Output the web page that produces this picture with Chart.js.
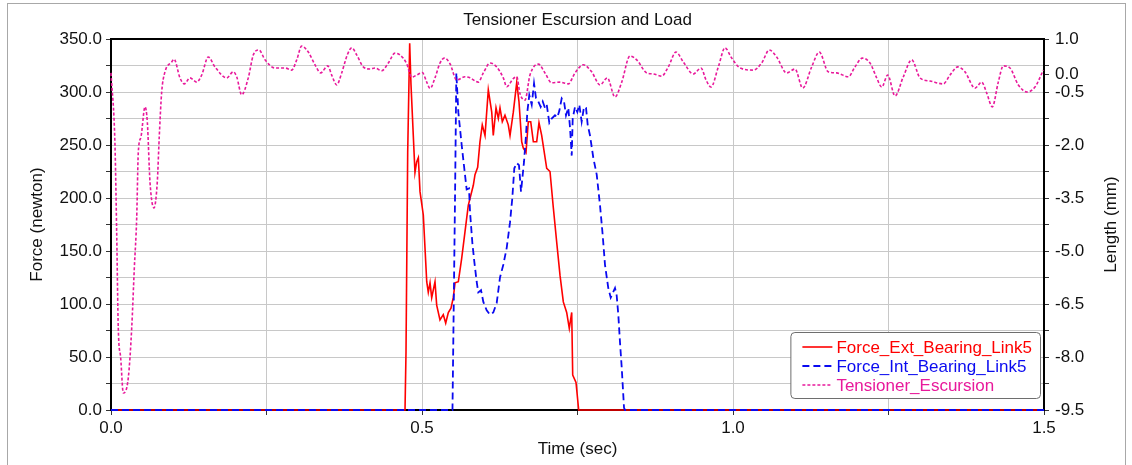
<!DOCTYPE html>
<html>
<head>
<meta charset="utf-8">
<title>Tensioner Escursion and Load</title>
<script src="https://cdn.jsdelivr.net/npm/chart.js@4/dist/chart.umd.min.js"></script>
<style>
  html, body { margin: 0; padding: 0; background: #fff; }
  #chart { display: block; }
</style>
</head>
<body>
<canvas id="chart" width="1132" height="465"></canvas>
<script>
/* global Chart */

// ---------- Data ----------

const chartTitle = 'Tensioner Escursion and Load';

// Force_Ext_Bearing_Link5 (newton, left axis)
const extTime = [0, 0.4727, 0.4743, 0.4770, 0.4802, 0.4823, 0.4860, 0.4887, 0.4914, 0.4941,
  0.4968, 0.5021, 0.5076, 0.5101, 0.5129, 0.5156, 0.5209, 0.5236, 0.5289, 0.5342,
  0.5381, 0.5423, 0.5466, 0.5503, 0.5531, 0.5584, 0.5638, 0.5691, 0.5744, 0.5825,
  0.5852, 0.5895, 0.5932, 0.5969, 0.6013, 0.6066, 0.6121, 0.6146, 0.6190, 0.6227,
  0.6254, 0.6291, 0.6334, 0.6387, 0.6415, 0.6468, 0.6523, 0.6559, 0.6603, 0.6629,
  0.6672, 0.6709, 0.6748, 0.6790, 0.6844, 0.6881, 0.6924, 0.7005, 0.7058, 0.7111,
  0.7166, 0.7219, 0.7272, 0.7326, 0.7368, 0.7407, 0.7423, 0.7476, 0.7519, 1.5];
const extForce = [0, 0, 55, 243, 346, 307, 259, 224, 234, 238,
  206, 184, 121, 111, 120, 106, 121, 99, 85, 90,
  82, 92, 96, 106, 120, 121, 143, 168, 193, 212,
  222, 229, 253, 269, 259, 302, 281, 259, 285, 275,
  285, 272, 278, 269, 259, 281, 309, 291, 253, 247,
  243, 272, 272, 253, 253, 271, 259, 228, 225, 191,
  158, 127, 102, 92, 77, 92, 33, 26, 0, 0];

// Force_Int_Bearing_Link5 (newton, left axis)
const intTime = [0, 0.5490, 0.5531, 0.5552, 0.5584, 0.5638, 0.5691, 0.5718, 0.5756, 0.5772,
  0.5809, 0.5841, 0.5879, 0.5905, 0.5949, 0.5986, 0.6040, 0.6093, 0.6146, 0.6201,
  0.6254, 0.6307, 0.6362, 0.6415, 0.6452, 0.6484, 0.6523, 0.6559, 0.6592, 0.6640,
  0.6672, 0.6693, 0.6725, 0.6764, 0.6801, 0.6833, 0.6870, 0.6908, 0.6941, 0.6977,
  0.7005, 0.7047, 0.7085, 0.7138, 0.7175, 0.7207, 0.7246, 0.7283, 0.7315, 0.7352,
  0.7379, 0.7407, 0.7423, 0.7460, 0.7497, 0.7529, 0.7567, 0.7605, 0.7637, 0.7664,
  0.7701, 0.7754, 0.7809, 0.7862, 0.7905, 0.7942, 0.7995, 0.8034, 0.8103, 0.8130,
  0.8156, 0.8183, 0.8211, 0.8248, 0.8264, 1.5];
const intForce = [0, 0, 200, 318, 281, 250, 222, 208, 209, 187,
  158, 140, 121, 111, 113, 102, 94, 90, 92, 101,
  125, 137, 153, 177, 200, 228, 233, 231, 206, 234,
  259, 281, 297, 288, 308, 294, 291, 286, 291, 285,
  288, 271, 275, 278, 276, 282, 294, 291, 278, 285,
  267, 240, 275, 286, 281, 288, 272, 286, 285, 269,
  259, 238, 222, 193, 165, 137, 115, 106, 115, 108,
  90, 64, 40, 2, 0, 0];

// Tensioner_Escursion (mm, right axis)
const tensTime = [0.0000, 0.0064, 0.0092, 0.0117, 0.0156, 0.0198, 0.0278, 0.0333, 0.0375, 0.0413,
  0.0439, 0.0482, 0.0547, 0.0584, 0.0627, 0.0691, 0.0744, 0.0777, 0.0815, 0.0868,
  0.0976, 0.1013, 0.1109, 0.1178, 0.1270, 0.1378, 0.1458, 0.1564, 0.1672, 0.1860,
  0.1966, 0.2021, 0.2101, 0.2207, 0.2288, 0.2379, 0.2476, 0.2637, 0.2797, 0.2905,
  0.2986, 0.3066, 0.3172, 0.3280, 0.3371, 0.3484, 0.3548, 0.3629, 0.3709, 0.3799,
  0.3870, 0.3950, 0.4056, 0.4164, 0.4244, 0.4352, 0.4458, 0.4566, 0.4646, 0.4754,
  0.4834, 0.4915, 0.5005, 0.5076, 0.5129, 0.5209, 0.5289, 0.5359, 0.5450, 0.5558,
  0.5691, 0.5772, 0.5905, 0.5986, 0.6093, 0.6201, 0.6307, 0.6362, 0.6468, 0.6523,
  0.6576, 0.6656, 0.6736, 0.6870, 0.6977, 0.7085, 0.7219, 0.7352, 0.7460, 0.7593,
  0.7728, 0.7862, 0.7979, 0.8103, 0.8211, 0.8344, 0.8452, 0.8613, 0.8719, 0.8854,
  0.8960, 0.9084, 0.9201, 0.9362, 0.9486, 0.9566, 0.9646, 0.9764, 0.9871, 0.9979,
  1.0113, 1.0326, 1.0461, 1.0584, 1.0702, 1.0863, 1.0997, 1.1121, 1.1265, 1.1387,
  1.1532, 1.1667, 1.1854, 1.1961, 1.2079, 1.2203, 1.2310, 1.2391, 1.2487, 1.2605,
  1.2738, 1.2873, 1.3006, 1.3167, 1.3381, 1.3489, 1.3613, 1.3730, 1.3891, 1.3998,
  1.4079, 1.4169, 1.4265, 1.4346, 1.4453, 1.4587, 1.4727, 1.4855, 1.4989];
const tensLength = [0.04, -2.00, -4.55, -7.18, -8.03, -9.02, -8.59, -7.18, -5.48, -4.07,
  -2.20, -1.77, -0.92, -1.35, -3.05, -3.78, -3.05, -1.72, -0.50, 0.07,
  0.35, 0.43, -0.10, -0.27, -0.10, -0.22, -0.02, 0.49, 0.21, -0.10,
  0.07, -0.07, -0.58, -0.10, 0.55, 0.69, 0.41, 0.18, 0.18, 0.12,
  0.41, 0.80, 0.63, 0.27, 0.04, 0.24, -0.02, -0.30, 0.04, 0.55,
  0.75, 0.55, 0.21, 0.15, 0.18, 0.10, 0.32, 0.60, 0.55, 0.30,
  -0.08, -0.02, 0.05, -0.22, -0.40, -0.10, 0.32, 0.46, 0.30, -0.16,
  -0.07, -0.10, -0.22, 0.04, 0.32, 0.21, -0.10, -0.35, -0.12, -0.07,
  -0.55, -0.73, -0.02, 0.29, 0.04, -0.24, -0.22, -0.27, 0.04, 0.27,
  0.07, -0.30, -0.10, -0.64, -0.22, 0.52, 0.41, 0.04, 0.01, -0.05,
  0.21, 0.63, 0.35, 0.01, 0.18, -0.16, -0.36, 0.21, 0.75, 0.46,
  0.18, 0.12, 0.32, 0.69, 0.49, 0.04, 0.15, -0.39, 0.21, 0.63,
  0.07, 0.04, -0.07, 0.21, 0.46, 0.32, -0.10, -0.36, -0.02, -0.61,
  -0.07, 0.41, -0.10, -0.19, -0.27, -0.02, 0.21, 0.07, -0.39, -0.22,
  -0.53, -0.92, -0.22, 0.24, 0.18, -0.30, -0.50, -0.36, 0.12];

// Tick values / labels
const timeTickStep = 0.25;
const timeLabelled = [0, 0.5, 1.0, 1.5];
const forceTickStep = 25;
const forceLabelled = [0, 50, 100, 150, 200, 250, 300, 350];
const lengthTicks = [-9.5, -8.75, -8.0, -7.25, -6.5, -5.75, -5.0, -4.25, -3.5, -2.75,
  -2.0, -1.25, -0.5, 0.0, 0.25, 1.0];
const lengthLabelled = [-9.5, -8.0, -6.5, -5.0, -3.5, -2.0, -0.5, 0.0, 1.0];

// ---------- Styling ----------

const FONT_FAMILY = "'Liberation Sans', Arial, sans-serif";
const FONT_SIZE = 17;
const TEXT_COLOR = '#111';
const GRID_COLOR = '#c8c8c8';
const RED = '#ff0000';
const BLUE = '#0a0af0';
const PINK = '#e8199b';

Chart.defaults.font.family = FONT_FAMILY;
Chart.defaults.font.size = FONT_SIZE;
Chart.defaults.color = TEXT_COLOR;

const toPoints = (xs, ys) => xs.map((x, i) => ({ x, y: ys[i] }));

// ---------- Decorations: frame, title, right-axis title, legend ----------

const decorations = {
  id: 'decorations',
  beforeDraw(chart) {
    const { ctx, width, height } = chart;
    ctx.save();
    ctx.fillStyle = '#fff';
    ctx.fillRect(0, 0, width, height);
    ctx.strokeStyle = '#a8a8a8';
    ctx.lineWidth = 1;
    ctx.strokeRect(7.5, 3.5, width - 14, height + 10);
    ctx.restore();
  },
  afterDraw(chart) {
    const { ctx, chartArea: area } = chart;
    const font = `${FONT_SIZE}px ${FONT_FAMILY}`;
    ctx.save();

    // top edge of the plot frame
    ctx.strokeStyle = '#000';
    ctx.lineWidth = 2;
    ctx.beginPath();
    ctx.moveTo(area.left - 1, area.top);
    ctx.lineTo(area.right + 1, area.top);
    ctx.stroke();

    // chart title
    ctx.fillStyle = TEXT_COLOR;
    ctx.font = font;
    ctx.textAlign = 'center';
    ctx.textBaseline = 'middle';
    ctx.fillText(chartTitle, (area.left + area.right) / 2, 20);

    // right axis title (reads bottom-to-top like the left one)
    ctx.save();
    ctx.translate(area.right + 67, (area.top + area.bottom) / 2);
    ctx.rotate(-Math.PI / 2);
    ctx.fillText('Length (mm)', 0, 0);
    ctx.restore();

    // legend box, bottom-right inside the plot
    const items = chart.data.datasets;
    const rowH = 19;
    const sampleW = 30;
    const maxText = Math.max(...items.map(d => ctx.measureText(d.label).width));
    const boxW = 12 + sampleW + 4 + maxText + 8;
    const boxH = 15 + rowH * (items.length - 1) + 13;
    const boxX = area.right - 4 - boxW;
    const boxY = area.bottom - 12 - boxH;

    ctx.beginPath();
    ctx.roundRect(boxX + 0.5, boxY + 0.5, boxW, boxH, 4);
    ctx.fillStyle = '#fff';
    ctx.fill();
    ctx.strokeStyle = '#6e6e6e';
    ctx.lineWidth = 1;
    ctx.stroke();

    ctx.textAlign = 'left';
    items.forEach((d, i) => {
      const cy = boxY + 15 + i * rowH;
      ctx.strokeStyle = d.borderColor;
      ctx.lineWidth = d.borderWidth;
      ctx.setLineDash(d.borderDash || []);
      ctx.beginPath();
      ctx.moveTo(boxX + 12, cy);
      ctx.lineTo(boxX + 12 + sampleW, cy);
      ctx.stroke();
      ctx.setLineDash([]);
      ctx.fillStyle = d.borderColor;
      ctx.fillText(d.label, boxX + 12 + sampleW + 4, cy + 1);
    });

    ctx.restore();
  },
};

// ---------- Chart ----------

new Chart(document.getElementById('chart'), {
  type: 'line',
  data: {
    datasets: [
      {
        label: 'Force_Ext_Bearing_Link5',
        data: toPoints(extTime, extForce),
        yAxisID: 'y',
        borderColor: RED,
        borderWidth: 1.6,
        pointRadius: 0,
        tension: 0,
        clip: false,
        order: 3,
      },
      {
        label: 'Force_Int_Bearing_Link5',
        data: toPoints(intTime, intForce),
        yAxisID: 'y',
        borderColor: BLUE,
        borderWidth: 1.8,
        borderDash: [7, 4],
        pointRadius: 0,
        tension: 0,
        clip: false,
        order: 2,
      },
      {
        label: 'Tensioner_Escursion',
        data: toPoints(tensTime, tensLength),
        yAxisID: 'y2',
        borderColor: PINK,
        borderWidth: 1.6,
        borderDash: [3, 2],
        pointRadius: 0,
        cubicInterpolationMode: 'monotone',
        clip: false,
        order: 1,
      },
    ],
  },
  options: {
    responsive: false,
    animation: false,
    layout: { padding: { top: 39, left: 0, right: 0, bottom: 0 } },
    plugins: {
      legend: { display: false },
      title: { display: false },
      tooltip: { enabled: false },
    },
    scales: {
      x: {
        type: 'linear',
        min: 0,
        max: 1.5,
        afterFit: (s) => { s.height = 55; },
        grid: { color: GRID_COLOR, tickColor: '#333', tickLength: 5 },
        border: { color: '#000', width: 2 },
        ticks: {
          stepSize: timeTickStep,
          autoSkip: false,
          maxRotation: 0,
          padding: 3,
          callback: (v) => (timeLabelled.includes(v) ? v.toFixed(1) : ''),
        },
        title: { display: true, text: 'Time (sec)', padding: { top: 0, bottom: 5 } },
      },
      y: {
        position: 'left',
        min: 0,
        max: 350,
        afterFit: (s) => { s.width = 111; },
        grid: { color: GRID_COLOR, tickColor: '#333', tickLength: 5 },
        border: { color: '#000', width: 2 },
        ticks: {
          stepSize: forceTickStep,
          autoSkip: false,
          padding: 4,
          callback: (v) => (forceLabelled.includes(v) ? v.toFixed(1) : ''),
        },
        title: { display: true, text: 'Force (newton)', padding: { top: 27, bottom: 0 } },
      },
      y2: {
        position: 'right',
        min: -9.5,
        max: 1.0,
        afterFit: (s) => { s.width = 88; },
        afterBuildTicks: (s) => { s.ticks = lengthTicks.map(v => ({ value: v })); },
        grid: { drawOnChartArea: false, tickColor: '#333', tickLength: 5 },
        border: { color: '#000', width: 2 },
        ticks: {
          autoSkip: false,
          padding: 6,
          callback: (v) => (lengthLabelled.includes(v) ? v.toFixed(1) : ''),
        },
      },
    },
  },
  plugins: [decorations],
});
</script>
</body>
</html>
